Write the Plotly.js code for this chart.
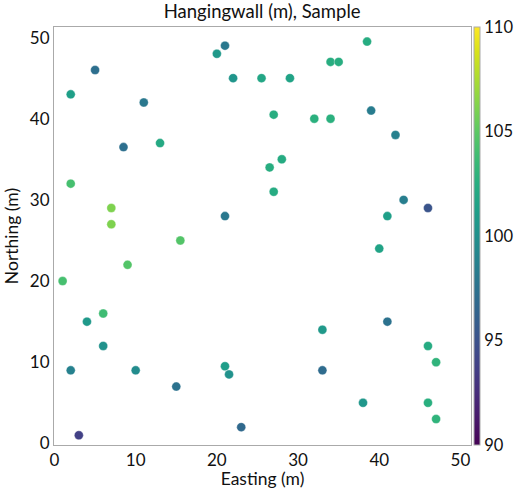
<!DOCTYPE html>
<html>
<head>
<meta charset="utf-8">
<script src="https://cdn.plot.ly/plotly-3.0.1.min.js"></script>
<style>html,body{margin:0;padding:0;background:#fff;}#chart{width:514px;height:489px;}</style>
</head>
<body>
<div id="chart"></div>
<script>
const easting = [21, 20, 5, 22, 25.5, 2, 11, 8.5, 13, 2, 7, 7, 21, 15.5,
  38.5, 34, 35, 29, 27, 32, 34, 39, 42, 28, 26.5, 27, 43, 46, 41,
  9, 1, 6, 4, 6, 2, 10, 21, 21.5, 15, 23, 3,
  40, 41, 33, 46, 47, 33, 38, 46, 47];
const northing = [49, 48, 46, 45, 45, 43, 42, 36.5, 37, 32, 29, 27, 28, 25,
  49.5, 47, 47, 45, 40.5, 40, 40, 41, 38, 35, 34, 31, 30, 29, 28,
  22, 20, 16, 15, 12, 9, 9, 9.5, 8.5, 7, 2, 1,
  24, 15, 14, 12, 10, 9, 5, 5, 3];
const hangingwall = [98, 100.7, 97.3, 100.4, 101.8, 101.2, 98, 97.3, 102.1, 104.1, 106.1, 106.1, 98, 104.6,
  102.4, 102.5, 102.5, 101.6, 102.5, 102.7, 102.7, 98.3, 98.7, 102.3, 102.5, 102.3, 98.5, 95.2, 101.2,
  104.6, 104.1, 103.8, 100.7, 100.1, 98.7, 99.6, 101.1, 100.1, 97.5, 96.8, 93.8,
  101.6, 97.5, 100.7, 102.3, 103, 97, 100.5, 102.6, 103];
const colorTicks = [90, 95, 100, 105, 110];
const axisTicks = [0, 10, 20, 30, 40, 50];

const font = "Lato, 'Open Sans', sans-serif";
const trace = {
  type: 'scatter', mode: 'markers', x: easting, y: northing,
  marker: {
    size: 9, color: hangingwall, colorscale: 'Viridis', cmin: 90, cmax: 110,
    line: {width: 0.5, color: 'rgba(255,255,255,0.7)'},
    colorbar: {
      thickness: 6, len: 1, lenmode: 'fraction', y: 0.5, yanchor: 'middle',
      x: 1.006, xanchor: 'left', xpad: 0, ypad: 0,
      outlinecolor: '#aaaaaa', outlinewidth: 1,
      tickvals: colorTicks, ticks: '', ticklen: 0, ticklabelposition: 'outside',
      tickfont: {family: font, size: 16.5, color: '#111'}
    }
  },
  hoverinfo: 'x+y'
};
const layout = {
  width: 514, height: 489,
  margin: {l: 54, r: 43, t: 27, b: 44, autoexpand: false},
  paper_bgcolor: '#fff', plot_bgcolor: '#fff',
  showlegend: false,
  title: {text: 'Hangingwall (m), Sample', font: {family: font, size: 18.5, color: '#111'}, x: 0.51, xanchor: 'center', y: 0.99, yanchor: 'top'},
  xaxis: {
    range: [-0.06, 51.3], tickvals: axisTicks, showgrid: false, zeroline: false,
    showline: true, mirror: true, linecolor: '#aaaaaa', linewidth: 1, ticks: '',
    tickfont: {family: font, size: 17, color: '#111'},
    title: {text: 'Easting (m)', font: {family: font, size: 17.5, color: '#111'}, standoff: 3}
  },
  yaxis: {
    range: [-0.2, 51.3], tickvals: axisTicks, showgrid: false, zeroline: false,
    showline: true, mirror: true, linecolor: '#aaaaaa', linewidth: 1, ticks: '',
    tickfont: {family: font, size: 17, color: '#111'},
    title: {text: 'Northing (m)', font: {family: font, size: 17.5, color: '#111'}, standoff: 6}
  }
};
Plotly.newPlot('chart', [trace], layout, {displayModeBar: false, staticPlot: true});
</script>
</body>
</html>
